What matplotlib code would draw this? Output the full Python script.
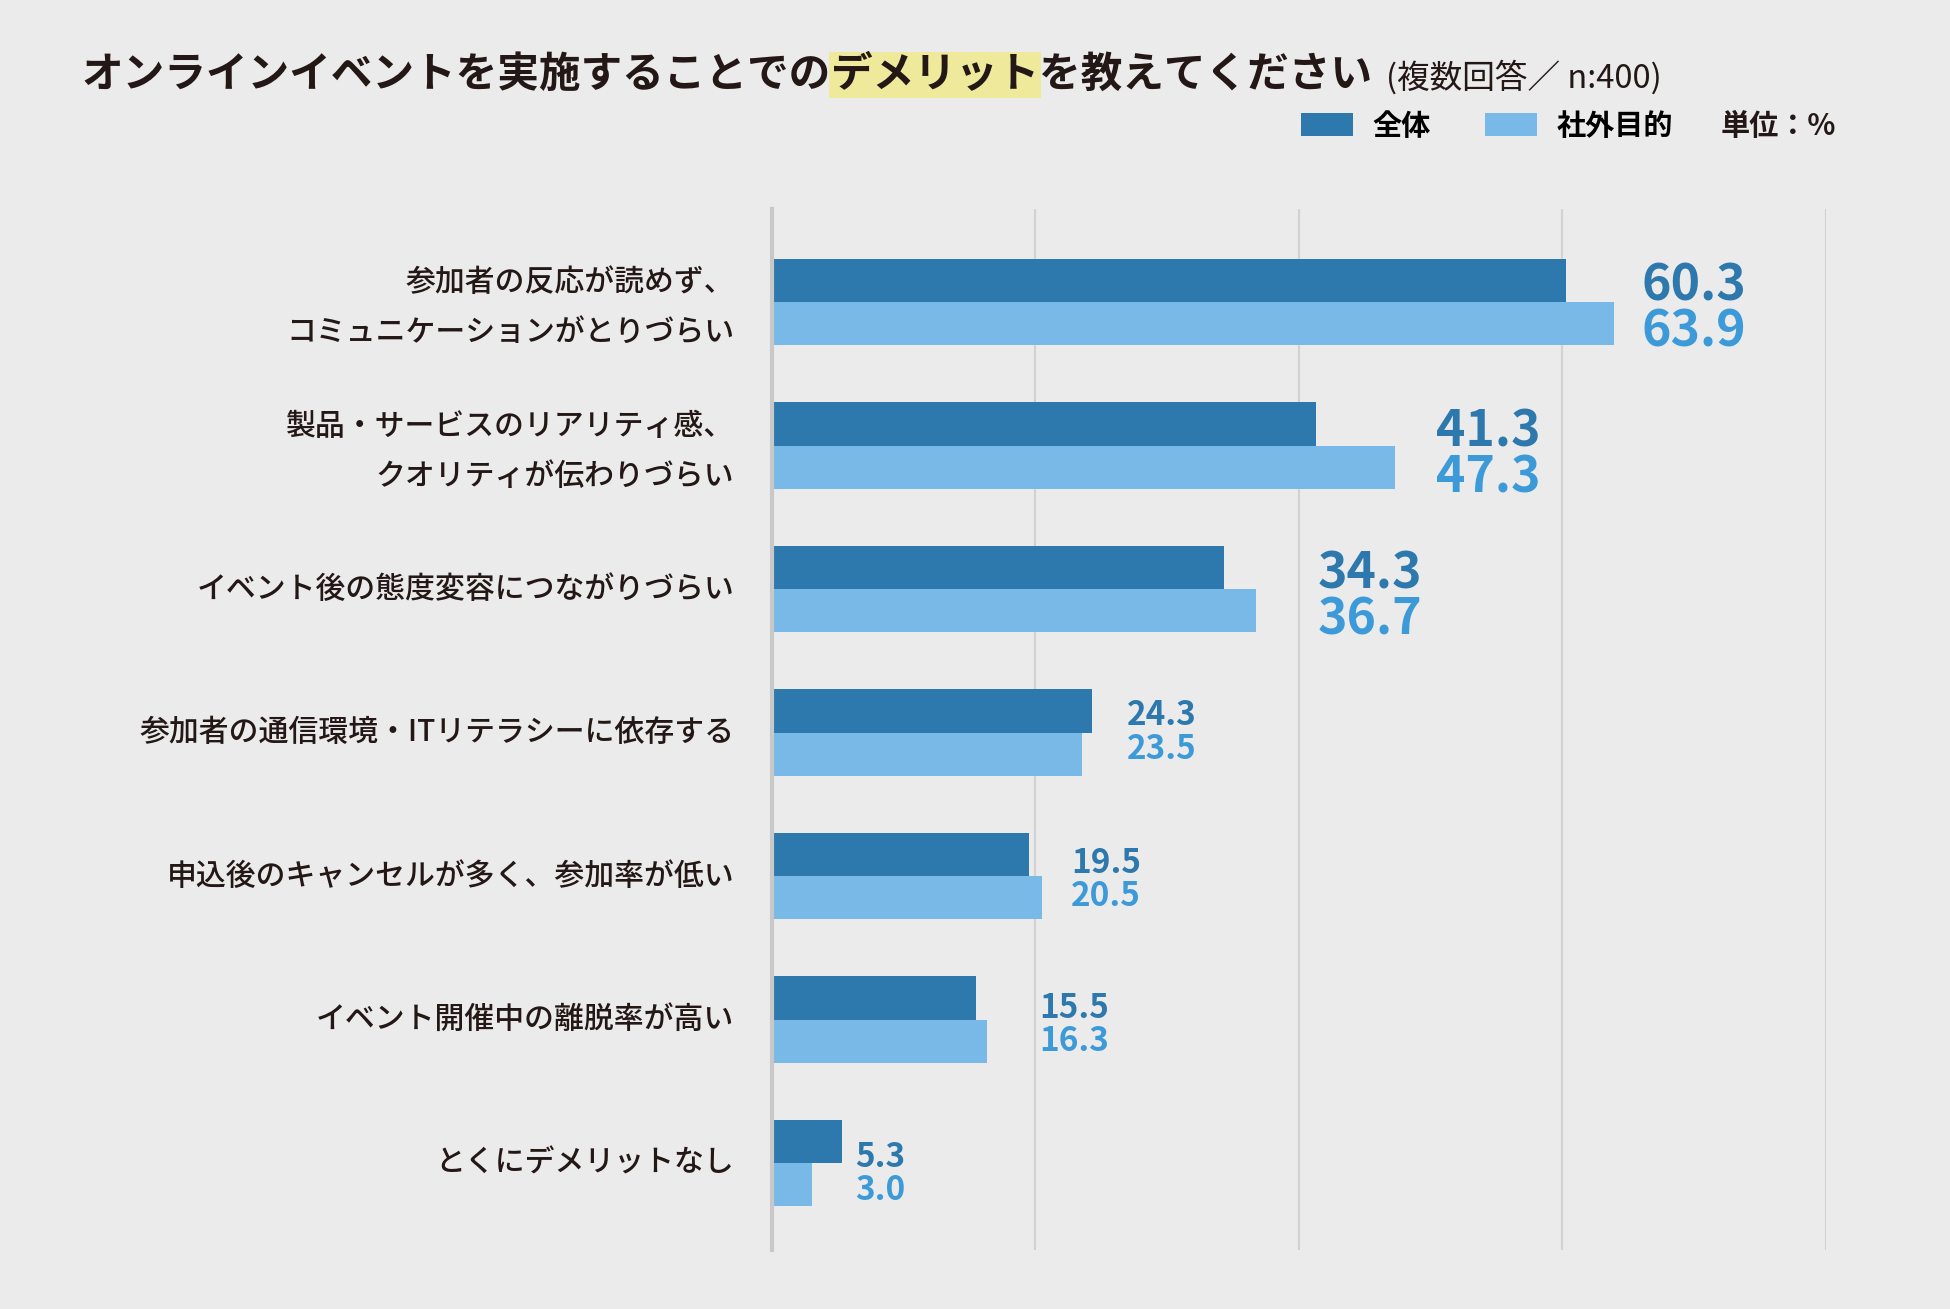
import matplotlib
matplotlib.use('Agg')
import matplotlib.pyplot as plt
import numpy as np

plt.rcParams['font.family'] = ['Noto Sans CJK JP', 'DejaVu Sans']

# data
categories = [
    '参加者の反応が読めず、\nコミュニケーションがとりづらい',
    '製品・サービスのリアリティ感、\nクオリティが伝わりづらい',
    'イベント後の態度変容につながりづらい',
    '参加者の通信環境・ITリテラシーに依存する',
    '申込後のキャンセルが多く、参加率が低い',
    'イベント開催中の離脱率が高い',
    'とくにデメリットなし',
]
overall = [60.3, 41.3, 34.3, 24.3, 19.5, 15.5, 5.3]
external = [63.9, 47.3, 36.7, 23.5, 20.5, 16.3, 3.0]
series_names = ['全体', '社外目的']
x_ticks = [0, 20, 40, 60, 80]

# layout / style
label_gap = [2.1, 3.1, 4.7, 2.6, 2.2, 4.0, 1.0]      # space between bar end and value text
label_shift = [0.026, 0.043, 0.035, 0.03, 0.06, 0.07, 0.11]  # vertical nudge of value text
big_label = [True, True, True, False, False, False, False]
bg = '#ebebeb'
dark = '#2d78ad'
light = '#78b9e7'
dark_txt = '#2d78ad'
light_txt = '#3d9ad9'
ink = '#231815'

fig = plt.figure(figsize=(19.5, 13.09), dpi=100, facecolor=bg)
ax = fig.add_axes([0.3959, 0.0451, 0.5405, 0.7952], facecolor=bg)

y = np.arange(len(categories))
h = 0.3
b1 = ax.barh(y - h / 2, overall, height=h, color=dark, label=series_names[0], zorder=3)
b2 = ax.barh(y + h / 2, external, height=h, color=light, label=series_names[1], zorder=3)

for i in range(len(categories)):
    x = max(overall[i], external[i]) + label_gap[i]
    if big_label[i]:
        fs, off1, off2 = 36, -h / 2 + 0.01, h / 2 + 0.03
    else:
        fs, off1, off2 = 24, -h / 2, h / 2 - 0.065
    ax.text(x, y[i] + off1 + label_shift[i], f'{overall[i]:.1f}', color=dark_txt,
            fontsize=fs, fontweight='bold', va='center', ha='left')
    ax.text(x, y[i] + off2 + label_shift[i], f'{external[i]:.1f}', color=light_txt,
            fontsize=fs, fontweight='bold', va='center', ha='left')

# category labels
for yi, cat in zip(y, categories):
    dy = 0.04 if '\n' in cat else 0
    ax.text(-0.036, yi + dy, cat, transform=ax.get_yaxis_transform(), ha='right',
            va='center', fontsize=21.5, fontweight='medium', color=ink,
            linespacing=1.8)

ax.set_xlim(0, 80)
ax.set_ylim(len(categories) - 1 + 0.606, -0.648)
ax.set_xticks(x_ticks)
ax.set_xticklabels([])
ax.set_yticks([])
ax.tick_params(axis='x', length=0)
ax.grid(axis='x', color='#d2d2d2', linewidth=1.5, zorder=0)
for s in ['top', 'right', 'bottom']:
    ax.spines[s].set_visible(False)
ax.spines['left'].set_color('#c8c8c8')
ax.spines['left'].set_linewidth(3)
ax.spines['left'].set_zorder(4)

# title with highlighted word
t1 = fig.text(0.042, 0.943, 'オンラインイベントを実施することでの', fontsize=30,
              fontweight='bold', color=ink, va='center', ha='left')
t2 = ax.annotate('デメリット', xy=(1, 0), xycoords=t1, va='bottom', ha='left',
                 fontsize=30, fontweight='bold', color=ink, annotation_clip=False,
                 bbox=dict(boxstyle='square,pad=0.05', fc='#efe99b', ec='none'))
t3 = ax.annotate('を教えてください', xy=(1, 0), xycoords=t2, va='bottom', ha='left',
                 fontsize=30, fontweight='bold', color=ink, annotation_clip=False)
ax.annotate('(複数回答／ n:400)', xy=(1, 0), xycoords=t3, xytext=(10, 1),
            textcoords='offset points', va='bottom', ha='left',
            fontsize=23.5, color=ink, annotation_clip=False)

# legend
fig.legend(handles=[b1, b2], loc='center left', bbox_to_anchor=(0.667, 0.904),
           ncol=2, frameon=False, prop={'weight': 'bold', 'size': 21},
           handlelength=1.78, handleheight=0.8, handletextpad=0.68,
           columnspacing=1.85, borderpad=0, borderaxespad=0)
fig.text(0.8826, 0.904, '単位：%', fontsize=21, fontweight='bold', color=ink,
         va='center', ha='left')

fig.savefig('out.png', dpi=100, facecolor=bg)
